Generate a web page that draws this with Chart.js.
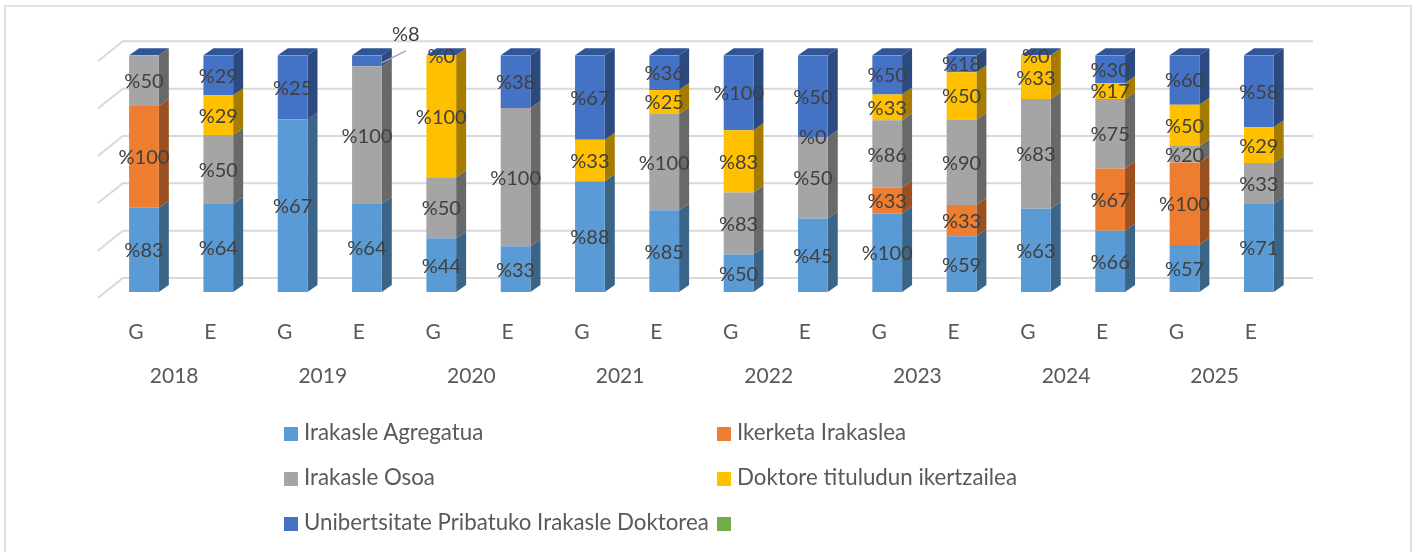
<!DOCTYPE html>
<html>
<head>
<meta charset="utf-8">
<title>Irakasleak</title>
<script src="https://cdn.jsdelivr.net/npm/chart.js@4"></script>
<style>
html, body { margin: 0; padding: 0; background: #fff; }
#wrap { position: relative; width: 1418px; height: 552px; overflow: hidden; }
#frame { position: absolute; left: 4px; top: 5px; right: 6px; bottom: -4px; border: 2px solid #e2e2e2; }
canvas { position: absolute; left: 0; top: 0; }
#legend { position: absolute; left: 284px; top: 414px; width: 900px; display: grid; grid-template-columns: 433px 433px; font: 22.3px Lato, sans-serif; color: #595959; }
#legend div { height: 45px; line-height: 35px; white-space: nowrap; }
#legend i { display: inline-block; width: 14px; height: 14px; margin-right: 6px; vertical-align: -1px; }
</style>
</head>
<body>
<div id="wrap">
<div id="frame"></div>
<canvas id="chart" width="1418" height="552"></canvas>
<div id="legend"></div>
</div>
<script>
// categories
const years = ['2018', '2019', '2020', '2021', '2022', '2023', '2024', '2025'];
const kinds = ['G', 'E', 'G', 'E', 'G', 'E', 'G', 'E', 'G', 'E', 'G', 'E', 'G', 'E', 'G', 'E'];

// series values, as printed on the bars (null = no label)
const agregatua = [83, 64, 67, 64, 44, 33, 88, 85, 50, 45, 100, 59, 63, 66, 57, 71];
const ikerketa = [100, null, null, null, null, null, null, null, null, null, 33, 33, null, 67, 100, null];
const osoa = [50, 50, null, 100, 50, 100, null, 100, 83, 50, 86, 90, 83, 75, 20, 33];
const doktore = [null, 29, null, null, 100, null, 33, 25, 83, 0, 33, 50, 33, 17, 50, 29];
const pribatua = [null, 29, 25, 8, 0, 38, 67, 36, 100, 50, 50, 18, 0, 30, 60, 58];
const hutsa = [null, null, null, null, null, null, null, null, null, null, null, null, null, null, null, null];

const seriesNames = ['Irakasle Agregatua', 'Ikerketa Irakaslea', 'Irakasle Osoa', 'Doktore tituludun ikertzailea', 'Unibertsitate Pribatuko Irakasle Doktorea', ''];
const seriesValues = [agregatua, ikerketa, osoa, doktore, pribatua, hutsa];
const seriesColors = ['#5B9BD5', '#ED7D31', '#A5A5A5', '#FFC000', '#4472C4', '#70AD47'];
const sideColors = ['#3A6488', '#9A511F', '#696969', '#A67C00', '#2B4A80', '#47702E'];
const capColor = '#2F5597';

const yTicks = [0, 20, 40, 60, 80, 100];

// depth of the 3D look
const barDepth = { x: 10, y: 7 };
const wallDepth = { x: -6, y: 14 };
const floorDepth = { x: 25, y: 20 };

// every column is stacked to 100, like the 100% stacked chart in Excel
function toShare(values) {
    return values.map(function(v, i) {
        let total = 0;
        seriesValues.forEach(function(s) { total += s[i] || 0; });
        return (v || 0) / total * 100;
    });
}

const depthPlugin = {
    id: 'depth',
    beforeDatasetsDraw(chart) {
        const ctx = chart.ctx;
        const y = chart.scales.y;
        const x = chart.scales.x;
        const left = x.left + 16;
        const right = x.right + 17;

        // back wall lines and the diagonals going to the front
        ctx.save();
        ctx.strokeStyle = '#D9D9D9';
        ctx.lineWidth = 2;
        yTicks.forEach(function(t) {
            const py = y.getPixelForValue(t) - wallDepth.y;
            ctx.beginPath();
            ctx.moveTo(left - floorDepth.x, py + floorDepth.y);
            ctx.lineTo(left, py);
            ctx.lineTo(right, py);
            ctx.stroke();
        });

        // side faces and the cap of every column
        chart.data.datasets.forEach(function(ds, d) {
            chart.getDatasetMeta(d).data.forEach(function(bar) {
                if (bar.base - bar.y < 0.5) return;
                const r = bar.x + bar.width / 2;
                ctx.fillStyle = sideColors[d];
                ctx.beginPath();
                ctx.moveTo(r, bar.y);
                ctx.lineTo(r + barDepth.x, bar.y - barDepth.y);
                ctx.lineTo(r + barDepth.x, bar.base - barDepth.y);
                ctx.lineTo(r, bar.base);
                ctx.closePath();
                ctx.fill();
            });
        });
        chart.getDatasetMeta(0).data.forEach(function(bar) {
            const top = y.getPixelForValue(100);
            const l = bar.x - bar.width / 2;
            const r = bar.x + bar.width / 2;
            ctx.fillStyle = capColor;
            ctx.beginPath();
            ctx.moveTo(l, top);
            ctx.lineTo(l + barDepth.x, top - barDepth.y);
            ctx.lineTo(r + barDepth.x, top - barDepth.y);
            ctx.lineTo(r, top);
            ctx.closePath();
            ctx.fill();
        });
        ctx.restore();
    },
    afterDatasetsDraw(chart) {
        const ctx = chart.ctx;
        ctx.save();
        ctx.font = '20px Lato, sans-serif';
        ctx.fillStyle = '#404040';
        ctx.textAlign = 'center';
        ctx.textBaseline = 'middle';
        seriesValues.forEach(function(values, d) {
            const bars = chart.getDatasetMeta(d).data;
            values.forEach(function(v, i) {
                if (v === null) return;
                const bar = bars[i];
                let px = bar.x;
                let py = (bar.y + bar.base) / 2 + 1;
                // the small %8 sits outside its bar, on a leader line
                if (v === 8) {
                    const r = bar.x + bar.width / 2;
                    ctx.strokeStyle = '#A6A6A6';
                    ctx.lineWidth = 1.5;
                    ctx.beginPath();
                    ctx.moveTo(r, py + 1);
                    ctx.lineTo(r + 24, py - 11);
                    ctx.stroke();
                    px = r + 24;
                    py = py - 27;
                }
                ctx.fillText('%' + v, px, py);
            });
        });
        ctx.restore();
    }
};

new Chart(document.getElementById('chart'), {
    type: 'bar',
    data: {
        labels: kinds,
        datasets: seriesNames.map(function(name, d) {
            return {
                label: name,
                data: toShare(seriesValues[d]),
                backgroundColor: seriesColors[d],
                categoryPercentage: 0.4,
                barPercentage: 1,
                borderWidth: 0
            };
        })
    },
    options: {
        responsive: false,
        animation: false,
        layout: { padding: { left: 106.8, right: 122, top: 55.3, bottom: 150 } },
        plugins: { legend: { display: false }, tooltip: { enabled: false } },
        scales: {
            x: {
                stacked: true,
                grid: { display: false },
                border: { display: false },
                ticks: { font: { family: 'Lato', size: 21 }, color: '#595959', padding: 20, labelOffset: -8, autoSkip: false, maxRotation: 0 },
                afterFit: function(scale) { scale.height = 60; }
            },
            years: {
                type: 'category',
                labels: years,
                position: 'bottom',
                offset: true,
                grid: { display: false },
                border: { display: false },
                ticks: { font: { family: 'Lato', size: 21 }, color: '#595959', padding: 4, labelOffset: -7, maxRotation: 0 },
                afterFit: function(scale) { scale.height = 50; }
            },
            y: {
                stacked: true,
                display: false,
                min: 0,
                max: 100
            }
        }
    },
    plugins: [depthPlugin]
});

// legend in two columns, like the original
const legend = document.getElementById('legend');
seriesNames.forEach(function(name, d) {
    const row = document.createElement('div');
    const box = document.createElement('i');
    box.style.background = seriesColors[d];
    row.appendChild(box);
    row.appendChild(document.createTextNode(name));
    legend.appendChild(row);
});
</script>
</body>
</html>
